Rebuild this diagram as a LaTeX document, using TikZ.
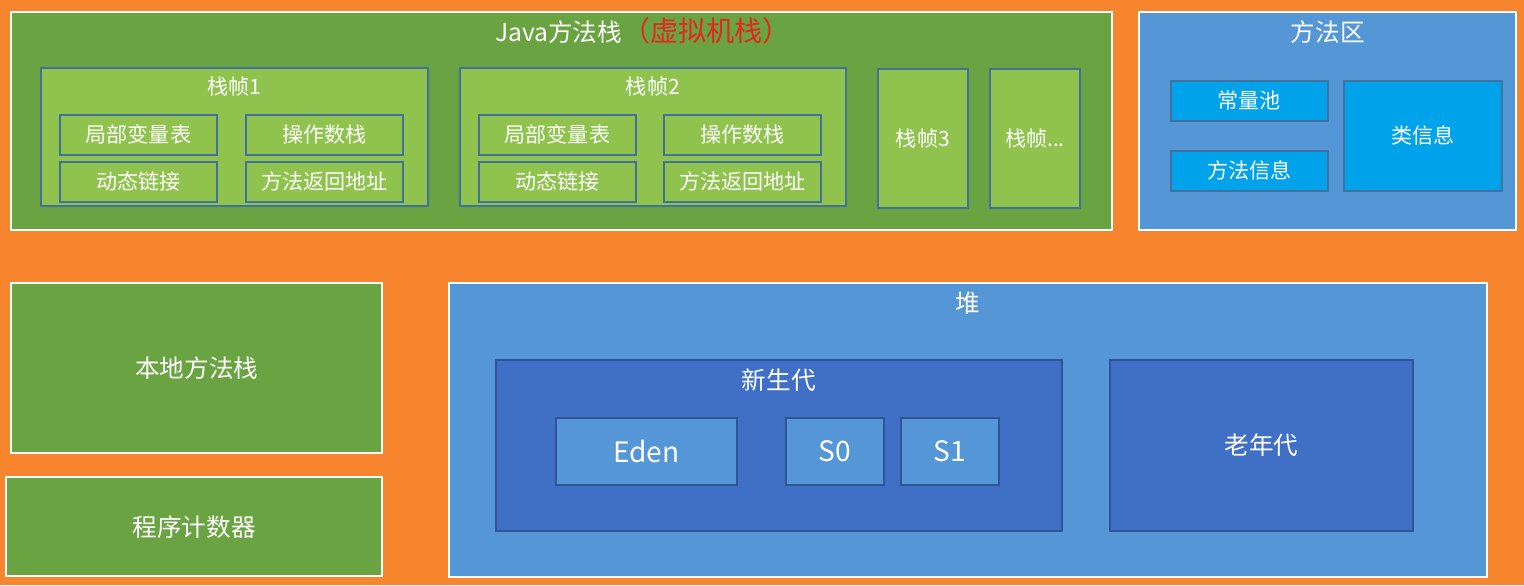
\documentclass[tikz,border=0pt]{standalone}
\usepackage{fontspec}
\setmainfont{Noto Sans CJK SC}
\usepackage{tikz}
\usetikzlibrary{positioning}

\definecolor{bgorange}{HTML}{F6852E}
\definecolor{darkgreen}{HTML}{6AA342}
\definecolor{lightgreen}{HTML}{8FC34D}
\definecolor{edgeblue}{HTML}{41719C}
\definecolor{areablue}{HTML}{5597D6}
\definecolor{cyanblue}{HTML}{00A3EA}
\definecolor{navyblue}{HTML}{4070C6}
\definecolor{navyedge}{HTML}{2F5597}
\definecolor{titlered}{HTML}{E8251F}

\begin{document}
\begin{tikzpicture}[
    x=0.02cm, y=-0.02cm,
    every node/.style={text=white, inner sep=0pt},
    wh/.style 2 args={minimum width=#1*0.02cm, minimum height=#2*0.02cm},
    area/.style={draw=white, line width=1.4pt, anchor=north west},
    sub/.style={draw=edgeblue, line width=1pt, anchor=north west},
    deep/.style={draw=navyedge, line width=1pt, anchor=north west},
    f12/.style={font=\fontsize{12}{14}\selectfont},
    f14/.style={font=\fontsize{14}{16}\selectfont},
    f16/.style={font=\fontsize{16}{18}\selectfont},
    head/.style={below=0.19cm of #1.north},
  ]
    % Background
    \fill[bgorange] (0,0) rectangle (1524,585);

    % Java stack
    \node[area, fill=darkgreen, wh={1101}{218}] (jstack) at (10,11) {};
    \node[f14] (jtitle) at (643,31) {Java方法栈\textcolor{titlered}{\fontsize{16}{18}\selectfont（虚拟机栈）}};

    \node[sub, fill=lightgreen, wh={387}{138}] (frame1) at (40,67) {};
    \node[f12, head=frame1] (frame1t) {栈帧1};
    \node[sub, fill=lightgreen, wh={157}{40}, f12] (locals1) at (59,114) {局部变量表};
    \node[sub, fill=lightgreen, wh={157}{40}, f12] (opstack1) at (245,114) {操作数栈};
    \node[sub, fill=lightgreen, wh={157}{40}, f12] (dynlink1) at (59,161) {动态链接};
    \node[sub, fill=lightgreen, wh={157}{40}, f12] (retaddr1) at (245,161) {方法返回地址};

    \node[sub, fill=lightgreen, wh={386}{138}] (frame2) at (459,67) {};
    \node[f12, head=frame2] (frame2t) {栈帧2};
    \node[sub, fill=lightgreen, wh={157}{40}, f12] (locals2) at (478,114) {局部变量表};
    \node[sub, fill=lightgreen, wh={157}{40}, f12] (opstack2) at (663,114) {操作数栈};
    \node[sub, fill=lightgreen, wh={157}{40}, f12] (dynlink2) at (478,161) {动态链接};
    \node[sub, fill=lightgreen, wh={157}{40}, f12] (retaddr2) at (663,161) {方法返回地址};

    \node[sub, fill=lightgreen, wh={90}{139}, f12] (frame3) at (877,68) {栈帧3};
    \node[sub, fill=lightgreen, wh={90}{139}, f12] (framen) at (989,68) {栈帧...};

    % Method area
    \node[area, fill=areablue, wh={377}{218}] (marea) at (1138,11) {};
    \node[f14, head=marea] (mareat) {方法区};
    \node[sub, fill=cyanblue, wh={157}{40}, f12] (pool) at (1170,80) {常量池};
    \node[sub, fill=cyanblue, wh={157}{40}, f12] (minfo) at (1170,150) {方法信息};
    \node[sub, fill=cyanblue, wh={158}{110}, f12] (cinfo) at (1343,80) {类信息};

    % Native stack and PC
    \node[area, fill=darkgreen, wh={371}{170}, f14] (native) at (10,282) {本地方法栈};
    \node[area, fill=darkgreen, wh={376}{99}, f14] (pc) at (5,476) {程序计数器};

    % Heap
    \node[area, fill=areablue, wh={1038}{294}] (heap) at (448,282) {};
    \node[f14, head=heap] (heapt) {堆};
    \node[deep, fill=navyblue, wh={566}{171}] (young) at (495,359) {};
    \node[f14, head=young] (youngt) {新生代};
    \node[deep, fill=areablue, wh={181}{67}, f16] (eden) at (555,417) {Eden};
    \node[deep, fill=areablue, wh={98}{67}, f16] (szero) at (785,417) {S0};
    \node[deep, fill=areablue, wh={98}{67}, f16] (sone) at (900,417) {S1};
    \node[deep, fill=navyblue, wh={303}{171}, f14] (old) at (1109,359) {老年代};
  \end{tikzpicture}
\end{document}
